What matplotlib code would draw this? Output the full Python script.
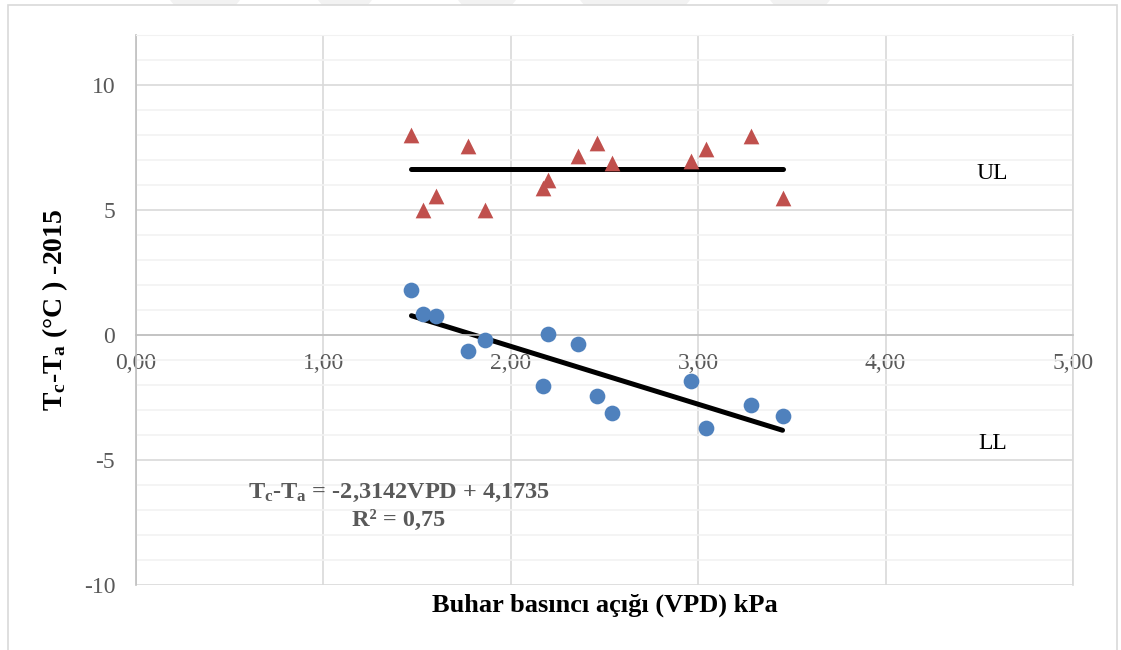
import matplotlib
matplotlib.use("Agg")
import matplotlib.pyplot as plt
import numpy as np
from matplotlib.patches import Polygon, Rectangle
from matplotlib.ticker import FuncFormatter, MultipleLocator

# values
vpd = [1.47, 1.53, 1.60, 1.77, 1.86, 2.17, 2.20, 2.36, 2.46, 2.54, 2.96, 3.04, 3.28, 3.45]
upper_tc_ta = [8.0, 5.0, 5.55, 7.55, 5.0, 5.9, 6.2, 7.15, 7.7, 6.9, 6.95, 7.45, 7.95, 5.5]
lower_tc_ta = [1.8, 0.85, 0.75, -0.65, -0.2, -2.05, 0.05, -0.35, -2.45, -3.1, -1.85, -3.7, -2.8, -3.25]

ll_slope = -2.3142
ll_intercept = 4.1735
ll_r2 = 0.75

plt.rcParams["font.family"] = ["Liberation Serif", "DejaVu Serif"]
plt.rcParams["mathtext.fontset"] = "custom"
plt.rcParams["mathtext.rm"] = "Liberation Serif"
plt.rcParams["mathtext.bf"] = "Liberation Serif:bold"
plt.rcParams["axes.unicode_minus"] = False

BLUE = "#4f81bd"
RED = "#c0504d"
TICK_GREY = "#595959"

fig = plt.figure(figsize=(11.21, 6.5), dpi=100)
ax = fig.add_axes([136 / 1121, 65 / 650, 937 / 1121, 550 / 650])

ax.set_xlim(0, 5)
ax.set_ylim(-10, 12)
ax.xaxis.set_major_locator(MultipleLocator(1))
ax.yaxis.set_major_locator(MultipleLocator(5))
ax.yaxis.set_minor_locator(MultipleLocator(1))
ax.xaxis.set_major_formatter(FuncFormatter(lambda v, p: f"{v:.2f}".replace(".", ",")))
ax.yaxis.set_major_formatter(FuncFormatter(lambda v, p: f"{int(round(v))}"))

ax.grid(which="major", axis="both", color="#d9d9d9", linewidth=1.2, zorder=0)
ax.grid(which="minor", axis="y", color="#f2f2f2", linewidth=1.2, zorder=0)
ax.set_axisbelow(True)

ax.spines["bottom"].set_position(("data", 0))
ax.spines["bottom"].set_color("#bfbfbf")
ax.spines["bottom"].set_linewidth(1.2)
ax.spines["left"].set_color("#bfbfbf")
ax.spines["left"].set_linewidth(1.2)
ax.spines["right"].set_color("#d9d9d9")
ax.spines["right"].set_linewidth(1.2)
ax.spines["top"].set_color("#f2f2f2")

ax.tick_params(axis="both", which="both", length=0, labelsize=17, labelcolor=TICK_GREY)
ax.tick_params(axis="x", pad=13)
ax.tick_params(axis="y", pad=15)

# upper limit: mean of upper points, lower limit: regression line
x_fit = np.array([min(vpd), max(vpd)])
ax.plot(x_fit, [np.mean(upper_tc_ta)] * 2, color="black", linewidth=3.6, solid_capstyle="round", zorder=2)
ax.plot(x_fit, ll_slope * x_fit + ll_intercept, color="black", linewidth=3.6, solid_capstyle="round", zorder=2)

ax.scatter(vpd, upper_tc_ta, marker="^", s=128, color=RED, linewidths=0, zorder=3)
ax.scatter(vpd, lower_tc_ta, marker="o", s=128, color=BLUE, linewidths=0, zorder=3)

ax.text(4.57, 6.45, "UL", fontsize=17, ha="center", va="center", color="black")
ax.text(4.57, -4.35, "LL", fontsize=17, ha="center", va="center", color="black")

eq = r"$\mathbf{T_c}$-$\mathbf{T_a}$ = " + f"{ll_slope:.4f}VPD + {ll_intercept:.4f}".replace(".", ",")
ax.text(1.402, -6.3, eq, fontsize=17.5, fontweight="bold", color=TICK_GREY, ha="center", va="center")
ax.text(1.402, -7.4, f"R² = {ll_r2:.2f}".replace(".", ","), fontsize=17.5, fontweight="bold",
        color=TICK_GREY, ha="center", va="center")

fig.text(604.5 / 1121, 1 - 605 / 650, "Buhar basıncı açığı (VPD) kPa", fontsize=19,
         fontweight="bold", ha="center", va="center")
fig.text(55 / 1121, 1 - 310 / 650, r"$\mathbf{T_c}$-$\mathbf{T_a}$ (°C ) -2015", fontsize=20,
         fontweight="bold", ha="center", va="center", rotation=90)

# faint page watermark at the top edge, then the chart frame over it
for x0, x1 in [(170, 240), (318, 372), (458, 516), (580, 690), (770, 830)]:
    pts = [(x0 / 1121, 1), (x1 / 1121, 1), ((x1 - 4) / 1121, 1 - 5 / 650), ((x0 + 4) / 1121, 1 - 5 / 650)]
    fig.add_artist(Polygon(pts, closed=True, transform=fig.transFigure, facecolor="#f2f2f2",
                           edgecolor="none", zorder=0))
fig.add_artist(Rectangle((8 / 1121, -0.05), 1109 / 1121, 1.05 - 5 / 650, transform=fig.transFigure,
                         fill=False, edgecolor="#d9d9d9", linewidth=1.2, zorder=1))

fig.savefig("out.png", dpi=100)
